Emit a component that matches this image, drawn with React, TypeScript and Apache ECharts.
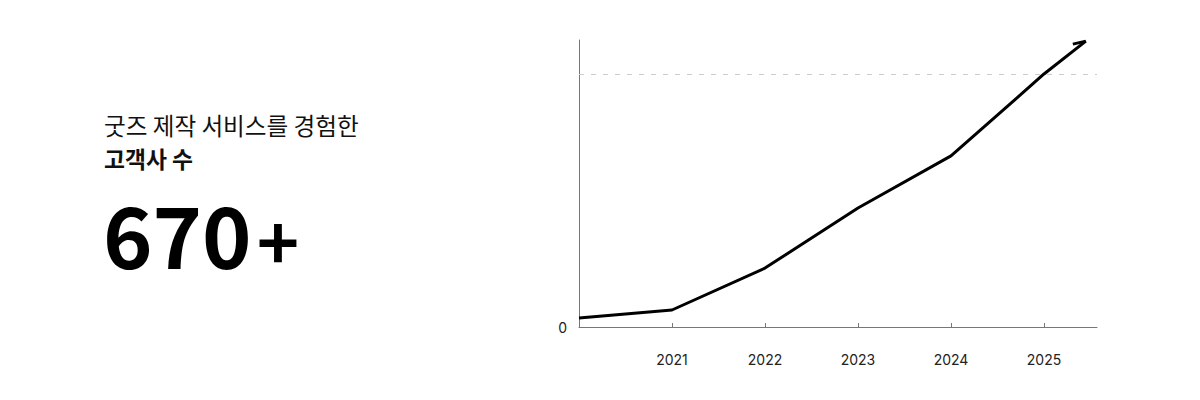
import React, { useEffect, useRef } from "react";
import * as echarts from "echarts";

const years = [2020, 2021, 2022, 2023, 2024, 2025, 2025.45];
const clients = [24, 45, 156, 315, 453, 670, 757];
const xTicks = [2021, 2022, 2023, 2024, 2025];
const targetValue = 670;
const headline1 = "굿즈 제작 서비스를 경험한";
const headline2 = "고객사 수";
const bigNumber = "670";
const bigSuffix = "+";

export default function App() {
  const ref = useRef<HTMLDivElement>(null);
  useEffect(() => {
    if (!ref.current) return;
    const chart = echarts.init(ref.current, null, { renderer: "svg" });
    const lineData = years.map((y, i) => [y, clients[i]]);
    const last = lineData[lineData.length - 1];
    const font = '"Noto Sans CJK KR", "Noto Sans", sans-serif';
    const latin = 'Inter, "Noto Sans CJK KR", sans-serif';
    chart.setOption({
      animation: false,
      grid: { left: 579, right: 103, top: 40, bottom: 73 },
      xAxis: {
        type: "value",
        min: 2020,
        max: 2025.57,
        interval: 1,
        splitLine: { show: false },
        axisLine: { show: true, lineStyle: { color: "#777", width: 1 } },
        axisTick: {
          show: true,
          inside: true,
          length: 4,
          lineStyle: { color: "#777" },
          customValues: xTicks,
        },
        axisLabel: {
          show: true,
          margin: 25,
          color: "#222",
          fontSize: 14,
          fontFamily: latin,
          customValues: xTicks,
          formatter: (v: number) => String(v),
        },
      },
      yAxis: {
        type: "value",
        min: 0,
        max: 760,
        interval: 760,
        splitLine: { show: false },
        axisLine: { show: true, lineStyle: { color: "#777", width: 1 } },
        axisTick: { show: false },
        axisLabel: {
          show: true,
          margin: 12,
          color: "#222",
          fontSize: 14,
          fontFamily: latin,
          showMaxLabel: false,
          formatter: (v: number) => (v === 0 ? "0" : ""),
        },
      },
      series: [
        {
          type: "line",
          data: lineData,
          symbol: "none",
          lineStyle: { color: "#000", width: 3 },
          z: 3,
          markLine: {
            silent: true,
            symbol: ["none", "none"],
            label: { show: false },
            lineStyle: { color: "#cccccc", width: 1, type: [5, 7] },
            data: [{ yAxis: targetValue }],
            z: 1,
          },
        },
        {
          type: "custom",
          data: [last],
          z: 4,
          renderItem: (params: any, api: any) => {
            const p = api.coord([api.value(0), api.value(1)]);
            return {
              type: "polyline",
              shape: {
                points: [
                  [p[0] - 13, p[1] + 3],
                  [p[0], p[1]],
                ],
              },
              style: { stroke: "#000", lineWidth: 3, fill: null, lineCap: "butt" },
            };
          },
        },
      ],
      graphic: [
        {
          type: "text",
          x: 104,
          y: 125,
          style: {
            text: headline1,
            font: `400 23.6px ${font}`,
            fill: "#111",
            verticalAlign: "middle",
          },
        },
        {
          type: "text",
          x: 104,
          y: 158,
          style: {
            text: headline2,
            font: `700 22.8px ${font}`,
            fill: "#111",
            verticalAlign: "middle",
          },
        },
        {
          type: "text",
          x: 103,
          y: 232,
          style: {
            text: bigNumber,
            font: `700 84px ${font}`,
            lineHeight: 64,
            fill: "#000",
            verticalAlign: "middle",
          },
        },
        {
          type: "text",
          x: 278,
          y: 238,
          style: {
            text: bigSuffix,
            font: `700 72px ${font}`,
            lineHeight: 50,
            fill: "#000",
            align: "center",
            verticalAlign: "middle",
          },
        },
      ],
    });
    return () => chart.dispose();
  }, []);
  return (
    <div
      ref={ref}
      style={{ position: "absolute", left: 0, top: 0, width: 1200, height: 400 }}
    />
  );
}
